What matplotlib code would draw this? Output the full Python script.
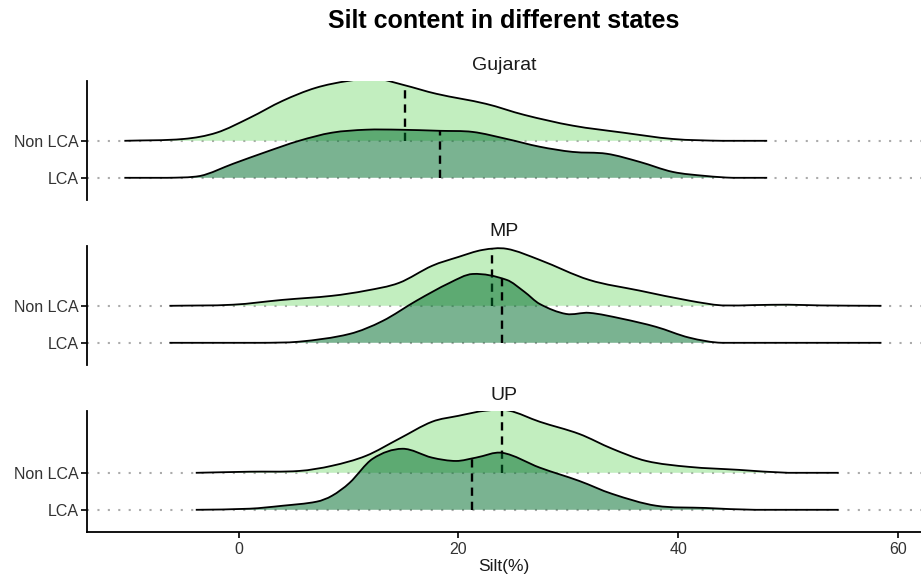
import matplotlib
matplotlib.use("Agg")
import matplotlib.pyplot as plt
import numpy as np
from matplotlib.path import Path
from matplotlib.patches import PathPatch

plt.rcParams["font.family"] = ["Liberation Sans", "DejaVu Sans"]

# ridge heights are given in row units (1 = gap between the two baselines)
states = ["Gujarat", "MP", "UP"]
groups = ["LCA", "Non LCA"]

guj_x_non = [-10.4, -5, -2, 1, 4, 7, 10, 12.5, 15, 18, 22.5, 26, 30.4, 35, 39.5, 44, 48.1]
guj_h_non = [0, 0.05, 0.22, 0.62, 1.08, 1.43, 1.62, 1.68, 1.51, 1.27, 1.00, 0.70, 0.41, 0.22, 0.05, 0, 0]
guj_x_lca = [-10.4, -6.5, -3.5, -0.5, 2.5, 5.5, 8.5, 11.6, 14.6, 18.3, 21.3, 24.4, 27.4, 30.4,
             33.5, 36.5, 39.5, 42.5, 45, 48.1]
guj_h_lca = [0, 0, 0.05, 0.38, 0.70, 1.00, 1.22, 1.30, 1.30, 1.27, 1.24, 1.05, 0.84, 0.70,
             0.65, 0.43, 0.16, 0.05, 0, 0]

mp_x_non = [-6.3, -0.5, 4, 8.5, 11.6, 14.6, 17.6, 20, 22.2, 24.4, 27.4, 31.9, 36.5, 41, 44, 47, 50, 53, 58.5]
mp_h_non = [0, 0.03, 0.16, 0.27, 0.41, 0.62, 1.08, 1.32, 1.51, 1.54, 1.24, 0.70, 0.41, 0.14, 0.01,
            0.02, 0.03, 0.01, 0]
mp_x_lca = [-6.3, 2, 5.5, 10.1, 13.1, 16.2, 19.2, 21.3, 24.4, 26, 27.4, 29.8, 31.9, 34.9, 38, 41, 44, 58.5]
mp_h_lca = [0, 0, 0.03, 0.24, 0.59, 1.14, 1.62, 1.86, 1.70, 1.38, 1.05, 0.78, 0.81, 0.65, 0.43,
            0.14, 0, 0]

up_x_non = [-3.9, 1, 5.5, 8.5, 11.6, 14.6, 17.6, 20, 22.5, 24.6, 27.4, 31, 34, 37.1, 41, 45.5, 50, 54.6]
up_h_non = [0, 0.03, 0.05, 0.19, 0.46, 0.92, 1.38, 1.54, 1.68, 1.68, 1.38, 1.05, 0.65, 0.32,
            0.16, 0.08, 0, 0]
up_x_lca = [-3.9, 1, 4, 7.1, 8.5, 10.1, 12.2, 14.9, 17.6, 19.8, 21.6, 24, 27.4, 31, 34, 38, 42.5, 47, 54.6]
up_h_lca = [0, 0.03, 0.11, 0.22, 0.38, 0.73, 1.38, 1.65, 1.41, 1.32, 1.41, 1.54, 1.14, 0.78,
            0.43, 0.11, 0.05, 0, 0]

# medians (dashed quantile lines)
median_non = [15.1, 23.1, 24.0]
median_lca = [18.3, 24.0, 21.2]

curves = {
    "Gujarat": {"Non LCA": (guj_x_non, guj_h_non), "LCA": (guj_x_lca, guj_h_lca)},
    "MP": {"Non LCA": (mp_x_non, mp_h_non), "LCA": (mp_x_lca, mp_h_lca)},
    "UP": {"Non LCA": (up_x_non, up_h_non), "LCA": (up_x_lca, up_h_lca)},
}

FILL = {"Non LCA": ("#90e08c", 0.55), "LCA": ("#006d2c", 0.52)}
BASE = {"LCA": 1, "Non LCA": 2}


def ridge_path(xs, hs, base, closed):
    """Smooth cubic (Hermite -> Bezier) path through the ridge knots."""
    x = np.asarray(xs, float)
    h = np.asarray(hs, float)
    n = len(x)
    m = np.zeros(n)
    for i in range(n):
        lo, hi = max(i - 1, 0), min(i + 1, n - 1)
        m[i] = (h[hi] - h[lo]) / (x[hi] - x[lo])
    verts = [(x[0], base + h[0])]
    codes = [Path.MOVETO]
    for i in range(n - 1):
        dx = x[i + 1] - x[i]
        c1 = (x[i] + dx / 3, base + max(h[i] + m[i] * dx / 3, 0))
        c2 = (x[i + 1] - dx / 3, base + max(h[i + 1] - m[i + 1] * dx / 3, 0))
        verts += [c1, c2, (x[i + 1], base + h[i + 1])]
        codes += [Path.CURVE4] * 3
    if closed:
        verts += [(x[-1], base), (x[0], base), (x[0], base)]
        codes += [Path.LINETO, Path.LINETO, Path.CLOSEPOLY]
    return Path(verts, codes)


W, H = 921, 584
fig = plt.figure(figsize=(W / 100, H / 100), dpi=100)

# panel boxes in pixels: top, bottom
panels = [(81, 200), (246, 365), (411, 532)]
left_px, right_px = 87, 921

axes = []
for k, state in enumerate(states):
    top, bot = panels[k]
    ax = fig.add_axes([left_px / W, 1 - bot / H, (right_px - left_px) / W, (bot - top) / H])
    ax.set_xlim(-13.8, 62.1)
    ax.set_ylim(0.4, 0.4 + (bot - top) / 37)

    for g in groups:
        ax.axhline(BASE[g], color="#ababab", lw=1.5, ls=(0, (1, 4)), zorder=1)

    z = 2
    for g, med in (("Non LCA", median_non[k]), ("LCA", median_lca[k])):
        xs, hs = curves[state][g]
        color, alpha = FILL[g]
        base = BASE[g]
        ax.add_patch(PathPatch(ridge_path(xs, hs, base, True), facecolor=color, alpha=alpha,
                               edgecolor="none", zorder=z))
        ax.add_patch(PathPatch(ridge_path(xs, hs, base, False), facecolor="none",
                               edgecolor="black", lw=1.3, zorder=z + 1))
        top_h = np.interp(med, xs, hs)
        ax.plot([med, med], [base, base + top_h], color="black", lw=1.7,
                ls=(0, (3.5, 2.5)), zorder=z + 2)
        z += 3

    ax.set_yticks([BASE["LCA"], BASE["Non LCA"]])
    ax.set_yticklabels(["LCA", "Non LCA"])
    ax.tick_params(axis="y", length=4, width=1.2, labelsize=11.5, colors="black",
                   labelcolor="#333333", pad=2)
    for s in ("top", "right"):
        ax.spines[s].set_visible(False)
    ax.spines["left"].set_linewidth(1.3)
    if k < 2:
        ax.spines["bottom"].set_visible(False)
        ax.set_xticks([])
    else:
        ax.spines["bottom"].set_linewidth(1.3)
        ax.set_xticks([0, 20, 40, 60])
        ax.tick_params(axis="x", length=4, width=1.2, labelsize=11.5, labelcolor="#333333", pad=3)
    ax.text(0.5, 1 + 15 / (bot - top), state, transform=ax.transAxes, ha="center", va="center",
            fontsize=14, color="#1a1a1a")
    axes.append(ax)

fig.text(504 / W, 1 - 21 / H, "Silt content in different states", ha="center", va="center",
         fontsize=18, fontweight="bold")
fig.text(504 / W, 1 - 567 / H, "Silt(%)", ha="center", va="center", fontsize=12.5, color="#1a1a1a")

fig.savefig("out.png", dpi=100)
